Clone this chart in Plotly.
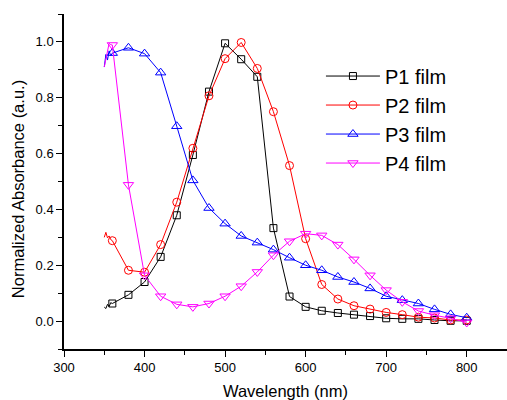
import plotly.graph_objects as go

# Marker wavelengths (nm)
wl = [360, 380, 400, 420, 440, 460, 480, 500, 520, 540, 560, 580, 600,
      620, 640, 660, 680, 700, 720, 740, 760, 780, 800]

p1 = [0.063, 0.094, 0.140, 0.230, 0.379, 0.595, 0.822, 0.995, 0.938, 0.875,
      0.333, 0.088, 0.051, 0.037, 0.029, 0.023, 0.018, 0.010, 0.008, 0.008,
      0.004, 0.001, 0.001]
p2 = [0.288, 0.182, 0.175, 0.274, 0.426, 0.619, 0.807, 0.940, 0.998, 0.905,
      0.750, 0.557, 0.295, 0.131, 0.079, 0.055, 0.043, 0.031, 0.023, 0.014,
      0.011, 0.004, 0.004]
p3 = [0.960, 0.979, 0.958, 0.890, 0.698, 0.504, 0.405, 0.349, 0.305, 0.281,
      0.256, 0.227, 0.200, 0.182, 0.158, 0.140, 0.117, 0.089, 0.075, 0.063,
      0.042, 0.024, 0.012]
p4 = [0.989, 0.488, 0.164, 0.089, 0.060, 0.051, 0.063, 0.089, 0.125, 0.176,
      0.236, 0.286, 0.313, 0.307, 0.274, 0.221, 0.164, 0.111, 0.069, 0.036,
      0.021, 0.010, -0.005]

# Noisy start of each spectrum (no markers)
p1_start_x = [350, 352, 354, 356, 358, 360]
p1_start_y = [0.050, 0.045, 0.060, 0.052, 0.066, 0.063]
p2_start_x = [350, 352, 354, 356, 358, 360]
p2_start_y = [0.300, 0.318, 0.298, 0.305, 0.292, 0.288]
p3_start_x = [350, 352, 354, 356, 358, 360]
p3_start_y = [0.910, 0.955, 0.935, 0.968, 0.950, 0.960]
p4_start_x = [350, 353, 356, 358, 360]
p4_start_y = [0.910, 0.950, 0.995, 0.990, 0.989]

series = [
    ("P1 film", p1, p1_start_x, p1_start_y, "#000000", "square-open", 7),
    ("P2 film", p2, p2_start_x, p2_start_y, "#FF0000", "circle-open", 8),
    ("P3 film", p3, p3_start_x, p3_start_y, "#0000FF", "triangle-up-open", 9),
    ("P4 film", p4, p4_start_x, p4_start_y, "#FF00FF", "triangle-down-open", 9),
]

fig = go.Figure()
for name, ys, sx, sy, col, sym, ms in series:
    fig.add_trace(go.Scatter(x=sx, y=sy, mode="lines", showlegend=False,
                             line=dict(color=col, width=1), hoverinfo="skip"))
    fig.add_trace(go.Scatter(x=wl, y=ys, mode="lines+markers", name=name,
                             line=dict(color=col, width=1),
                             marker=dict(symbol=sym, size=ms, color=col,
                                         line=dict(width=1, color=col))))

font_family = "Arial, Liberation Sans, sans-serif"
fig.update_layout(
    width=507, height=400,
    margin=dict(l=64, r=0, t=14, b=51),
    paper_bgcolor="white", plot_bgcolor="white",
    font=dict(family=font_family, color="black", size=13),
    legend=dict(x=0.58, y=0.873, xanchor="left", yanchor="top",
                font=dict(size=20, family=font_family),
                bgcolor="rgba(0,0,0,0)", itemwidth=54, tracegroupgap=0),
    xaxis=dict(range=[300, 850], dtick=100, tick0=300,
               showline=True, linecolor="black", linewidth=1.5,
               ticks="outside", ticklen=6, tickwidth=1.2, tickcolor="black",
               minor=dict(dtick=50, ticks="outside", ticklen=4, tickcolor="black", tickwidth=1),
               showgrid=False, zeroline=False, mirror=False,
               title=dict(text="Wavelength (nm)", font=dict(size=16.5), standoff=14),
               tickfont=dict(size=13)),
    yaxis=dict(range=[-0.1, 1.1], dtick=0.2, tick0=0, tickformat=".1f",
               showline=True, linecolor="black", linewidth=1.5,
               ticks="outside", ticklen=6, tickwidth=1.2, tickcolor="black",
               minor=dict(dtick=0.1, ticks="outside", ticklen=4, tickcolor="black", tickwidth=1),
               showgrid=False, zeroline=False, mirror=False,
               tickfont=dict(size=13)),
    annotations=[dict(text="Normalized Absorbance (a.u.)", textangle=-90,
                      xref="paper", yref="paper", x=-0.104, y=0.477,
                      xanchor="center", yanchor="middle", showarrow=False,
                      font=dict(size=16.5, family=font_family))],
)

fig.write_html("out.html")
